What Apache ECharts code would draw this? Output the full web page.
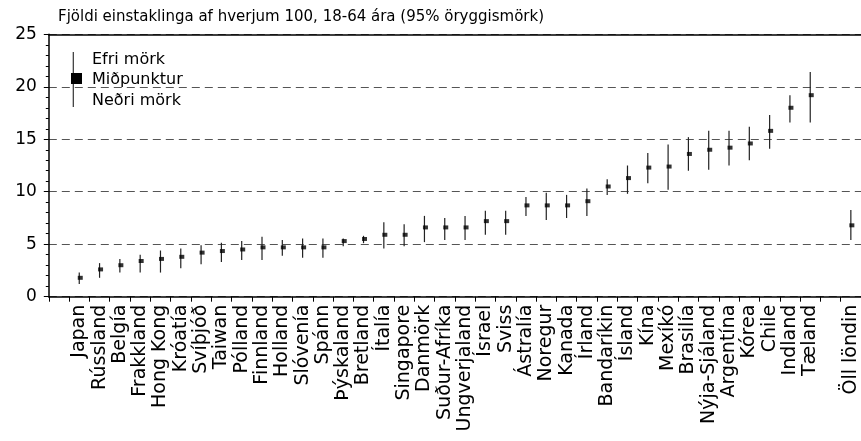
<!DOCTYPE html>
<html>
<head>
<meta charset="utf-8">
<script src="https://cdn.jsdelivr.net/npm/echarts@6/dist/echarts.min.js"></script>
<style>
  html, body { margin: 0; padding: 0; background: #fff; }
  #chart { width: 861px; height: 441px; }
</style>
</head>
<body>
<div id="chart"></div>
<script>
// Countries, sorted by midpoint estimate
const countries = ['Japan', 'Rússland', 'Belgía', 'Frakkland', 'Hong Kong', 'Króatía', 'Svíþjóð', 'Taiwan',
  'Pólland', 'Finnland', 'Holland', 'Slóvenía', 'Spánn', 'Þýskaland', 'Bretland', 'Ítalía', 'Singapore',
  'Danmörk', 'Suður-Afríka', 'Ungverjaland', 'Ísrael', 'Sviss', 'Ástralía', 'Noregur', 'Kanada', 'Írland',
  'Bandaríkin', 'Ísland', 'Kína', 'Mexíkó', 'Brasilía', 'Nýja-Sjáland', 'Argentína', 'Kórea', 'Chile',
  'Indland', 'Tæland'];
// Midpoint (Miðpunktur)
const midValues = [1.8, 2.6, 3.0, 3.4, 3.6, 3.8, 4.2, 4.35, 4.5, 4.7, 4.7, 4.7, 4.7, 5.3, 5.5, 5.9, 5.9,
  6.6, 6.6, 6.6, 7.2, 7.2, 8.7, 8.7, 8.7, 9.1, 10.5, 11.3, 12.3, 12.4, 13.6, 14.0, 14.2, 14.6, 15.8, 18.0, 19.2];
// Lower bound (Neðri mörk)
const lowerValues = [1.2, 1.8, 2.3, 2.3, 2.3, 2.7, 3.1, 3.3, 3.5, 3.5, 3.9, 3.7, 3.7, 4.8, 5.1, 4.6, 4.8,
  5.2, 5.4, 5.4, 5.9, 5.9, 7.7, 7.3, 7.5, 7.7, 9.7, 9.8, 10.8, 10.2, 12.0, 12.1, 12.5, 13.0, 14.1, 16.6, 16.6];
// Upper bound (Efri mörk)
const upperValues = [2.3, 3.2, 3.6, 4.0, 4.4, 4.6, 4.9, 5.15, 5.3, 5.7, 5.4, 5.55, 5.55, 5.55, 5.8, 7.1, 6.9,
  7.7, 7.5, 7.7, 8.2, 8.2, 9.5, 9.9, 9.7, 10.3, 11.2, 12.5, 13.7, 14.5, 15.2, 15.8, 15.8, 16.2, 17.3, 19.2, 21.4];
// All countries combined
const totalLabel = 'Öll löndin';
const totalMid = 6.8;
const totalLower = 5.4;
const totalUpper = 8.25;
const yTicks = [0, 5, 10, 15, 20, 25];

// Category slots: a blank slot on each side of the country block, then the total
const categories = [''].concat(countries, ['', totalLabel]);
const mids = ['-'].concat(midValues, ['-', totalMid]);
const lows = ['-'].concat(lowerValues, ['-', totalLower]);
const highs = ['-'].concat(upperValues, ['-', totalUpper]);

const rangeData = [];
const midData = [];
categories.forEach(function (c, i) {
  if (mids[i] === '-') return;
  rangeData.push([i, lows[i], highs[i]]);
  midData.push([i, mids[i]]);
});

const FONT = 'DejaVu Sans';
const chart = echarts.init(document.getElementById('chart'), null, { renderer: 'canvas' });

chart.setOption({
  animation: false,
  backgroundColor: '#fff',
  title: {
    text: 'Fjöldi einstaklinga af hverjum 100, 18-64 ára (95% öryggismörk)',
    left: 58, top: 10, padding: 0,
    textStyle: { fontFamily: FONT, fontSize: 15, fontWeight: 'normal', color: '#000' }
  },
  grid: { left: 48.8, right: -1, top: 34.3, bottom: 144.3, containLabel: false },
  xAxis: [{
    type: 'category',
    data: categories,
    boundaryGap: true,
    axisLine: { show: true, lineStyle: { color: '#000', width: 1.5 } },
    axisTick: { show: true, alignWithLabel: false, interval: 0, length: 5, lineStyle: { color: '#000' } },
    axisLabel: { interval: 0, rotate: 90, margin: 8, fontFamily: FONT, fontSize: 19, color: '#000' },
    splitLine: { show: false }
  }, {
    type: 'category',
    data: categories,
    position: 'top',
    axisLine: { show: true, lineStyle: { color: '#000', width: 1.5 } },
    axisTick: { show: false },
    axisLabel: { show: false },
    splitLine: { show: false }
  }],
  yAxis: {
    type: 'value',
    min: yTicks[0], max: yTicks[yTicks.length - 1], interval: 5,
    axisLine: { show: true, lineStyle: { color: '#000', width: 1.5 } },
    axisTick: { show: true, length: 5, lineStyle: { color: '#000' } },
    minorTick: { show: true, splitNumber: 5, length: 3, lineStyle: { color: '#000' } },
    axisLabel: { margin: 12, fontFamily: FONT, fontSize: 17, color: '#000' },
    splitLine: { show: true, lineStyle: { color: '#555', width: 1, type: [8, 5] } }
  },
  graphic: [
    // legend key: whisker with midpoint square
    { type: 'line', shape: { x1: 73.3, y1: 52, x2: 73.3, y2: 107 }, style: { stroke: '#333', lineWidth: 1.2 } },
    { type: 'rect', shape: { x: 71, y: 73, width: 11, height: 11 }, style: { fill: '#000' } },
    { type: 'text', left: 92, top: 52, style: { text: 'Efri mörk', font: '16px "DejaVu Sans"', fill: '#000' } },
    { type: 'text', left: 92, top: 72, style: { text: 'Miðpunktur', font: '16px "DejaVu Sans"', fill: '#000' } },
    { type: 'text', left: 92, top: 93, style: { text: 'Neðri mörk', font: '16px "DejaVu Sans"', fill: '#000' } }
  ],
  series: [{
    name: 'range',
    type: 'custom',
    data: rangeData,
    encode: { x: 0, y: [1, 2] },
    renderItem: function (params, api) {
      const lo = api.coord([api.value(0), api.value(1)]);
      const hi = api.coord([api.value(0), api.value(2)]);
      return {
        type: 'line',
        shape: { x1: lo[0], y1: lo[1], x2: hi[0], y2: hi[1] },
        style: { stroke: '#222', lineWidth: 1.2 }
      };
    },
    z: 3
  }, {
    name: 'Miðpunktur',
    type: 'scatter',
    data: midData,
    symbol: 'rect',
    symbolSize: [5, 4],
    symbolOffset: [1, 0],
    itemStyle: { color: '#000' },
    z: 4
  }]
});
</script>
</body>
</html>
